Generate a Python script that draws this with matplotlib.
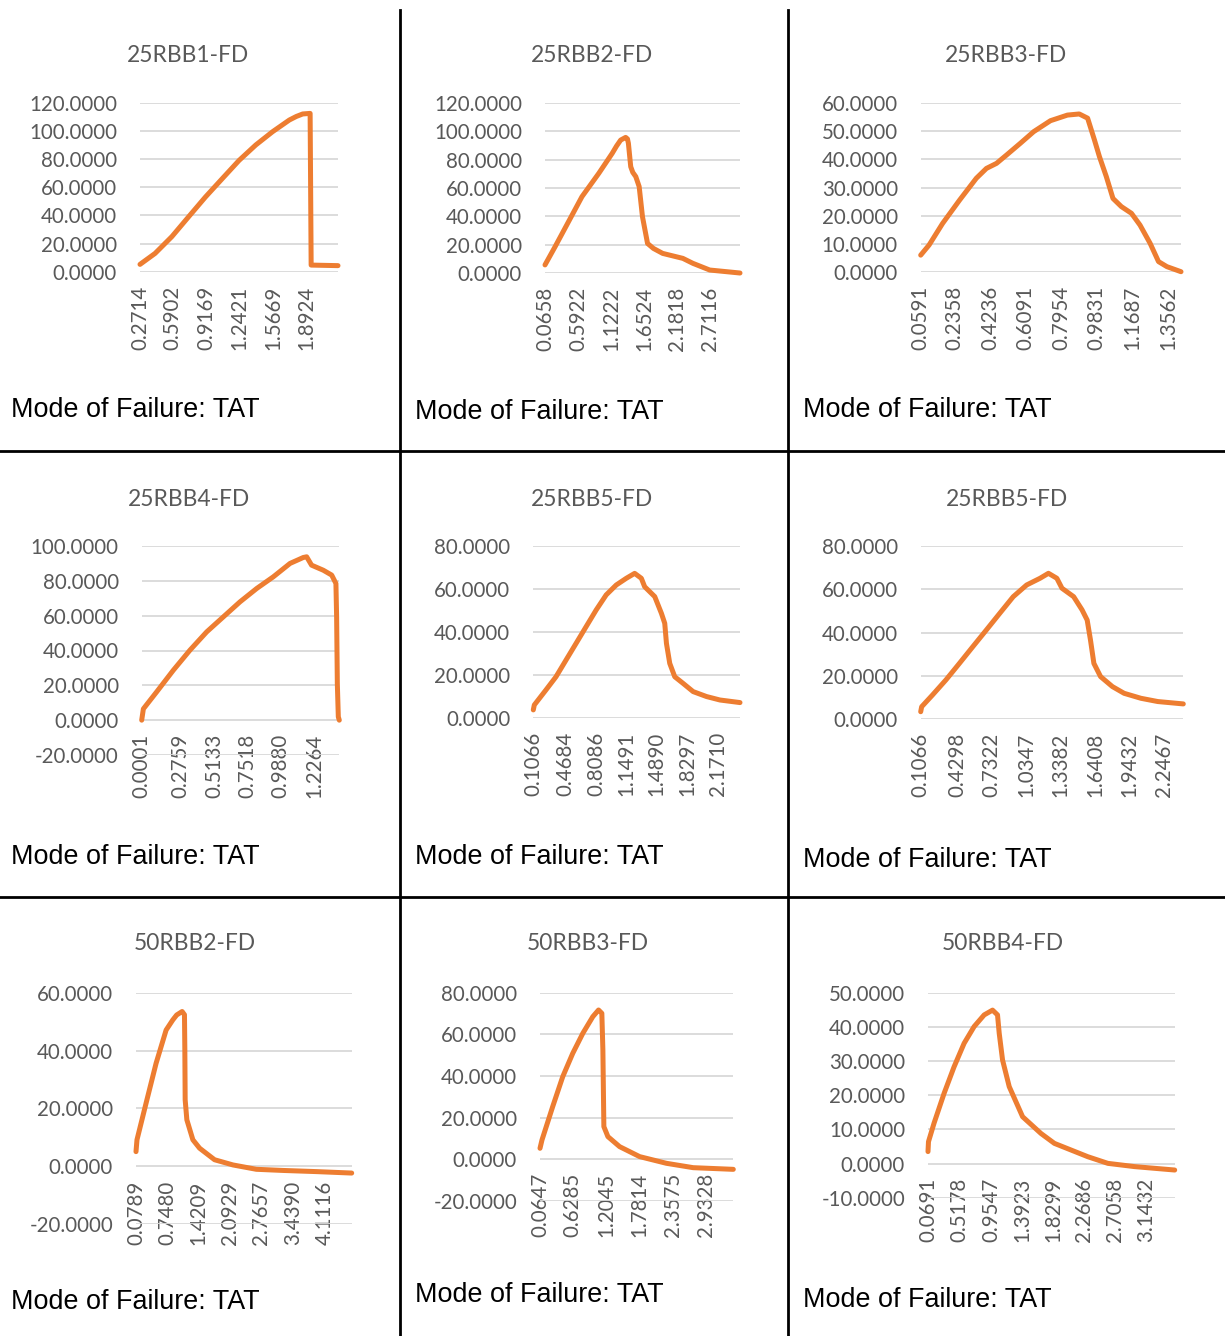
import matplotlib.pyplot as plt
from matplotlib.lines import Line2D
import numpy as np

W, H = 1225, 1336
ORANGE = "#ED7D31"
GREY_TXT = "#595959"
GRID = "#D9D9D9"

note = "Mode of Failure: TAT"

# 25RBB1-FD
rbb1_disp = [0.2714, 0.418, 0.581, 0.744, 0.907, 1.070, 1.234, 1.397, 1.560, 1.723, 1.790, 1.853,
             1.925, 1.935, 2.196]
rbb1_force = [5.2, 13.0, 24.9, 39.0, 53.0, 66.0, 79.0, 90.0, 99.4, 107.7, 110.2, 112.0,
              112.4, 4.7, 4.3]
rbb1_ticks = [0.2714, 0.5902, 0.9169, 1.2421, 1.5669, 1.8924]

# 25RBB2-FD
rbb2_disp = [0.0658, 0.227, 0.442, 0.657, 0.926, 1.141, 1.210, 1.276, 1.356, 1.385, 1.400, 1.437,
             1.470, 1.518, 1.572, 1.625, 1.706, 1.800, 1.948, 2.271, 2.432, 2.701, 3.185]
rbb2_force = [5.9, 18.7, 36.3, 53.9, 70.3, 84.4, 89.5, 93.7, 95.6, 94.5, 91.4, 75.0,
              71.0, 68.0, 61.0, 39.8, 21.0, 17.5, 14.0, 10.5, 7.0, 2.3, 0.2]
rbb2_ticks = [0.0658, 0.5922, 1.1222, 1.6524, 2.1818, 2.7116]

# 25RBB3-FD
rbb3_disp = [0.0591, 0.103, 0.174, 0.263, 0.351, 0.404, 0.457, 0.510, 0.581, 0.652, 0.740, 0.829,
             0.891, 0.935, 0.971, 0.997, 1.033, 1.068, 1.112, 1.165, 1.210, 1.263, 1.307, 1.351, 1.425]
rbb3_force = [5.9, 9.5, 17.2, 25.5, 33.3, 36.8, 38.6, 41.6, 45.7, 49.9, 53.8, 55.8,
              56.2, 54.7, 46.9, 41.0, 33.9, 26.1, 23.2, 20.8, 16.6, 10.1, 3.6, 1.8, 0.0]
rbb3_ticks = [0.0591, 0.2358, 0.4236, 0.6091, 0.7954, 0.9831, 1.1687, 1.3562]

# 25RBB4-FD
rbb4_disp = [0.0001, 0.012, 0.107, 0.225, 0.343, 0.462, 0.580, 0.698, 0.817, 0.935, 1.054, 1.148,
             1.172, 1.207, 1.290, 1.350, 1.380, 1.385, 1.390, 1.397, 1.404]
rbb4_force = [0.0, 6.5, 16.3, 28.7, 40.2, 50.7, 59.3, 67.9, 75.6, 82.3, 90.0, 93.4,
              93.8, 89.0, 86.1, 83.3, 78.5, 59.3, 21.0, 1.9, 0.0]
rbb4_ticks = [0.0001, 0.2759, 0.5133, 0.7518, 0.9880, 1.2264]

# 25RBB5-FD (middle)
rbb5a_disp = [0.1066, 0.118, 0.249, 0.361, 0.474, 0.586, 0.699, 0.811, 0.923, 1.036, 1.148, 1.242,
              1.317, 1.354, 1.467, 1.542, 1.579, 1.598, 1.635, 1.691, 1.785, 1.897, 2.047, 2.197, 2.422]
rbb5a_force = [3.9, 6.2, 13.2, 19.3, 27.1, 34.8, 42.6, 50.3, 57.3, 61.9, 65.0, 67.3,
               65.0, 61.1, 56.5, 48.7, 44.1, 34.8, 25.5, 19.3, 16.2, 12.4, 10.1, 8.5, 7.3]
rbb5a_ticks = [0.1066, 0.4684, 0.8086, 1.1491, 1.4890, 1.8297, 2.1710]

# 25RBB5-FD (right)
rbb5b_disp = [0.1066, 0.115, 0.210, 0.329, 0.447, 0.565, 0.684, 0.802, 0.921, 1.039, 1.157, 1.231,
              1.305, 1.350, 1.453, 1.527, 1.572, 1.601, 1.631, 1.690, 1.794, 1.897, 2.045, 2.193, 2.418]
rbb5b_force = [3.5, 5.8, 11.2, 18.2, 25.8, 33.5, 41.2, 48.9, 56.6, 62.0, 65.1, 67.4,
               65.1, 60.5, 56.6, 50.5, 45.8, 36.6, 25.8, 19.7, 15.1, 12.0, 9.7, 8.2, 7.1]
rbb5b_ticks = [0.1066, 0.4298, 0.7322, 1.0347, 1.3382, 1.6408, 1.9432, 2.2467]

# 50RBB2-FD
rbb50_2_disp = [0.0789, 0.100, 0.294, 0.509, 0.724, 0.867, 0.950, 1.067, 1.117, 1.125, 1.132, 1.168,
                1.297, 1.440, 1.762, 2.156, 2.657, 3.230, 3.947, 4.699]
rbb50_2_force = [5.1, 9.2, 21.8, 35.6, 47.1, 50.6, 52.3, 53.5, 52.4, 40.2, 23.0, 16.1,
                 9.2, 6.3, 2.3, 0.5, -1.0, -1.4, -1.8, -2.3]
rbb50_2_ticks = [0.0789, 0.7480, 1.4209, 2.0929, 2.7657, 3.4390, 4.1116]

# 50RBB3-FD
rbb50_3_disp = [0.0647, 0.099, 0.284, 0.458, 0.631, 0.805, 0.978, 1.077, 1.134, 1.152, 1.163,
                1.169, 1.239, 1.441, 1.788, 2.250, 2.713, 3.407]
rbb50_3_force = [5.3, 9.3, 25.3, 39.7, 50.9, 60.5, 68.5, 71.7, 70.1, 52.5, 28.5,
                 15.7, 10.9, 6.1, 1.3, -1.9, -4.0, -4.8]
rbb50_3_ticks = [0.0647, 0.6285, 1.2045, 1.7814, 2.3575, 2.9328]

# 50RBB4-FD
rbb50_4_disp = [0.0691, 0.076, 0.154, 0.295, 0.436, 0.578, 0.719, 0.860, 0.978, 1.048, 1.072,
                1.119, 1.213, 1.401, 1.660, 1.849, 2.084, 2.319, 2.602, 2.978, 3.261, 3.543]
rbb50_4_force = [3.5, 6.4, 11.8, 20.5, 28.3, 35.2, 40.1, 43.5, 44.9, 43.5, 38.1,
                 30.3, 22.5, 13.7, 8.8, 5.9, 3.95, 2.0, 0.05, -0.9, -1.4, -1.9]
rbb50_4_ticks = [0.0691, 0.5178, 0.9547, 1.3923, 1.8299, 2.2686, 2.7058, 3.1432]

titles = ["25RBB1-FD", "25RBB2-FD", "25RBB3-FD",
          "25RBB4-FD", "25RBB5-FD", "25RBB5-FD",
          "50RBB2-FD", "50RBB3-FD", "50RBB4-FD"]
series = [(rbb1_disp, rbb1_force, rbb1_ticks), (rbb2_disp, rbb2_force, rbb2_ticks),
          (rbb3_disp, rbb3_force, rbb3_ticks), (rbb4_disp, rbb4_force, rbb4_ticks),
          (rbb5a_disp, rbb5a_force, rbb5a_ticks), (rbb5b_disp, rbb5b_force, rbb5b_ticks),
          (rbb50_2_disp, rbb50_2_force, rbb50_2_ticks), (rbb50_3_disp, rbb50_3_force, rbb50_3_ticks),
          (rbb50_4_disp, rbb50_4_force, rbb50_4_ticks)]
y_ranges = [(0, 120, 20), (0, 120, 20), (0, 60, 10),
            (-20, 100, 20), (0, 80, 20), (0, 80, 20),
            (-20, 60, 20), (-20, 80, 20), (-10, 50, 10)]

# layout in pixels: plot box (left, right, top, bottom), title centre, note position
boxes = [(140, 338, 102.7, 271.7), (545, 740, 102.7, 273.3), (920.7, 1181, 103.3, 271.7),
         (141.7, 339.3, 546, 755), (533.3, 740, 546, 718.3), (920.7, 1183.3, 546, 719.3),
         (136, 351.7, 992.7, 1224.3), (540, 733.3, 992.7, 1201), (928, 1174.7, 992.7, 1197.7)]
title_pos = [(188, 56), (592, 56), (1006, 56),
             (189, 499), (592, 499), (1007, 499),
             (195, 944), (588, 944), (1003, 944)]
note_pos = [(11, 410), (415, 412), (803, 410),
            (11, 857), (415, 857), (803, 860),
            (11, 1302), (415, 1295), (803, 1300)]

fig = plt.figure(figsize=(W / 100, H / 100), dpi=100)

for i in range(9):
    xs, ys, ticks = series[i]
    l, r, t, b = boxes[i]
    ax = fig.add_axes([l / W, 1 - b / H, (r - l) / W, (b - t) / H])
    lo, hi, step = y_ranges[i]
    # category axis sits on the zero line, as in Excel
    for s in ax.spines.values():
        s.set_visible(False)
    ax.spines["bottom"].set_position(("data", 0))
    ax.plot(xs, ys, color=ORANGE, lw=3.6, solid_capstyle="round", solid_joinstyle="round",
            clip_on=False, zorder=3)
    ax.set_xlim(xs[0], xs[-1])
    ax.set_ylim(lo, hi)
    yt = np.arange(lo, hi + step / 2, step)
    ax.set_yticks(yt)
    ax.set_yticklabels([f"{v:.4f}" for v in yt])
    ax.set_xticks(ticks)
    ax.set_xticklabels([f"{v:.4f}" for v in ticks])
    for lab in ax.get_yticklabels() + ax.get_xticklabels():
        lab.set_family("Lato")
        lab.set_fontsize(14.8)
        lab.set_color(GREY_TXT)
    for lab in ax.get_xticklabels():
        lab.set_rotation(90)
    ax.tick_params(axis="both", length=0)
    ax.tick_params(axis="y", pad=16.5)
    ax.tick_params(axis="x", pad=10)
    ax.grid(axis="y", color=GRID, lw=1.3)
    ax.grid(axis="x", visible=False)
    ax.set_axisbelow(True)
    ax.patch.set_alpha(0)

    tx, ty = title_pos[i]
    fig.text(tx / W, 1 - ty / H, titles[i], ha="center", va="center", family="Lato",
             fontsize=16.4, color=GREY_TXT)
    nx, ny = note_pos[i]
    fig.text(nx / W, 1 - ny / H, note, ha="left", va="center", family="Liberation Sans",
             fontsize=19.4, color="black")

# cell borders
for x in (400, 788):
    fig.add_artist(Line2D([x / W, x / W], [0, 1 - 10 / H], transform=fig.transFigure,
                          color="black", lw=2))
for y in (451, 897):
    fig.add_artist(Line2D([0, 1], [1 - y / H, 1 - y / H], transform=fig.transFigure,
                          color="black", lw=2))

fig.savefig("out.png", dpi=100)
